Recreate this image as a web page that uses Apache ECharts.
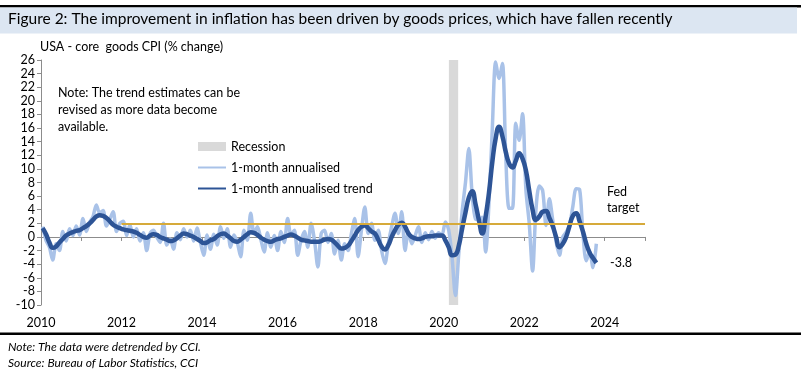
<!DOCTYPE html>
<html>
<head>
<meta charset="utf-8">
<script src="https://cdn.jsdelivr.net/npm/echarts@6/dist/echarts.min.js"></script>
<style>
html,body{margin:0;padding:0;background:#fff}
#chart{width:801px;height:375px}
</style>
</head>
<body>
<div id="chart"></div>
<script>
// monthly data, Jan 2010 .. Oct 2023
var startYear = 2010;
var annualised = [
  1.5, -0.5, -1.5, -3.4, -1.0, -2.0, 0.8, -0.6, 1.2, 0.2, 1.6, 0.3,
  2.7, 0.8, 2.2, 3.0, 4.7, 3.5, 3.9, 1.6, 2.6, 3.7, 0.8, 2.0,
  2.3, 0.2, 1.8, 0.0, 1.2, -0.6, 0.6, -2.0, 0.5, 1.0, 0.0, -0.8,
  2.0, -1.2, -0.3, -1.8, 0.6, -0.4, 1.2, 0.0, 1.0, -0.6, 1.3, -0.8,
  -2.7, 0.3, -1.8, 0.4, -1.2, 1.5, -0.2, 1.2, -1.5, 0.3, -0.8, -2.9,
  1.0, -0.5, 3.5, 0.5, 1.5, -0.3, -2.2, 0.6, -1.5, 0.2, -2.0, 0.8,
  -0.8, 2.7, 0.3, 1.0, -2.7, -0.5, 0.8, -1.5, 2.0, -0.5, -4.4, 0.5,
  1.0, -0.8, 0.5, -2.5, -0.5, -3.4, -1.0, -2.0, 0.5, 2.7, -2.9, 1.0,
  4.4, 0.5, 2.0, -0.5, 1.0, -2.0, -3.9, -1.0, 1.5, 3.5, 0.5, 3.7,
  -2.0, 0.8, -1.0, 0.2, 1.5, -0.8, 0.6, -0.4, 0.8, -0.2, 0.6, 0.3,
  2.2, 1.0, -3.0, -8.6, -2.5, 3.7, 8.0, 13.0, 6.1, 2.6, 2.5, 2.9,
  -2.2, 5.0, 16.0, 25.7, 23.3, 25.5, 12.0, 4.2, 4.2, 16.7, 14.2, 18.1,
  7.0, 2.0, -5.0, 4.0, 7.5, 6.8, 1.7, 5.6, 2.5, -0.7, -2.7, 0.0,
  0.7, 1.7, 4.5, 7.1, 7.0, 0.5, -3.5, -2.2, -4.5, -1.0
];
var trend = [
  1.3, 0.4, -0.8, -1.6, -1.4, -0.8, -0.3, 0.2, 0.5, 0.7, 0.9, 1.0,
  1.3, 1.6, 2.0, 2.5, 3.0, 3.2, 3.1, 2.8, 2.3, 1.8, 1.5, 1.3,
  1.1, 1.0, 0.9, 0.8, 0.6, 0.3, 0.0, -0.1, 0.2, 0.4, 0.3, 0.0,
  -0.2, -0.4, -0.6, -0.5, -0.2, 0.2, 0.5, 0.4, 0.2, 0.0, -0.3, -0.6,
  -0.9, -0.8, -0.5, -0.3, 0.1, 0.4, 0.5, 0.2, -0.2, -0.6, -0.7, -0.4,
  0.0, 0.4, 0.7, 0.6, 0.3, -0.1, -0.4, -0.6, -0.7, -0.5, -0.3, -0.2,
  0.0, 0.2, 0.35, 0.2, -0.1, -0.4, -0.5, -0.6, -0.7, -0.7, -0.7, -0.6,
  -0.4, -0.3, -0.4, -0.8, -1.3, -1.7, -1.6, -1.3, -0.6, 0.2, 1.0, 1.5,
  1.7, 1.3, 0.8, 0.5, -0.4, -1.4, -1.85, -1.2, 0.0, 1.0, 1.8, 2.1,
  1.5, 0.5, 0.0, -0.2, -0.3, -0.2, 0.0, 0.1, 0.1, 0.2, 0.2, 0.2,
  -0.5, -1.5, -2.7, -2.6, -1.3, 1.2, 3.6, 5.8, 6.7, 4.8, 2.5, 0.5,
  3.0, 6.5, 11.0, 14.5, 16.2, 14.8, 12.5, 10.8, 10.2, 11.2, 12.3, 11.5,
  9.8, 6.8, 4.0, 2.5, 3.0, 3.7, 3.8, 2.8, 1.6, 0.0, -1.5, -1.0,
  0.0, 1.6, 3.1, 3.5, 2.3, 0.8, -1.0, -2.3, -3.1, -3.8
];
var recession = [2020.13, 2020.36];
var fedTarget = 2;
var fedFrom = 2012;
var xRange = [2010, 2025];
var yRange = [-10, 26];

var FONT = 'Lato, "Liberation Sans", sans-serif';

// x position = middle of each month, in years
function monthX(i) { return startYear + (i + 0.5) / 12; }
var rawPts = annualised.map(function (v, i) { return [monthX(i), v]; });
var trendPts = trend.map(function (v, i) { return [monthX(i), v]; });

var myChart = echarts.init(document.getElementById('chart'));
var option = {
  animation: false,
  textStyle: { fontFamily: FONT },
  grid: { left: 41, right: 156, top: 60, bottom: 70 },
  legend: {
    orient: 'vertical',
    left: 192, top: 135,
    itemWidth: 28, itemHeight: 9, itemGap: 8,
    textStyle: { fontSize: 12.5, color: '#000', fontFamily: FONT },
    data: [
      { name: 'Recession', icon: 'rect', itemStyle: { color: '#D9D9D9' } },
      // hide the marker dot, keep only the line
      { name: '1-month annualised', itemStyle: { opacity: 0 } },
      { name: '1-month annualised trend', itemStyle: { opacity: 0 } }
    ]
  },
  xAxis: [
    {
      type: 'value', min: xRange[0], max: xRange[1], interval: 1,
      axisLine: { show: false, onZero: false },
      axisTick: { show: false },
      splitLine: { show: false },
      axisLabel: {
        margin: 11, fontSize: 12.5, color: '#000', fontFamily: FONT,
        formatter: function (v) { return (v % 2 === 0 && v < 2025) ? String(v) : ''; }
      }
    },
    {
      type: 'value', min: xRange[0], max: xRange[1], interval: 1, position: 'bottom',
      axisLine: { show: true, onZero: true, lineStyle: { color: '#8C8C8C', width: 1 } },
      axisTick: { show: true, length: 4, lineStyle: { color: '#8C8C8C' } },
      axisLabel: { show: false },
      splitLine: { show: false }
    }
  ],
  yAxis: {
    type: 'value', min: yRange[0], max: yRange[1], interval: 2,
    axisLine: { show: true, onZero: false, lineStyle: { color: '#8C8C8C' } },
    axisTick: { show: true, length: 4, lineStyle: { color: '#8C8C8C' } },
    splitLine: { show: false },
    axisLabel: { margin: 6, fontSize: 12.5, color: '#000', fontFamily: FONT }
  },
  series: [
    {
      name: 'Recession', type: 'line', data: [], z: 1, color: '#D9D9D9',
      symbol: 'none', silent: true,
      markArea: {
        silent: true,
        itemStyle: { color: '#D9D9D9' },
        data: [[{ xAxis: recession[0] }, { xAxis: recession[1] }]]
      }
    },
    {
      name: '1-month annualised', type: 'line', data: rawPts, z: 2,
      color: '#A9C2E8', symbol: 'none', smooth: 0.3,
      lineStyle: { width: 3.5, color: '#A9C2E8' }
    },
    {
      name: 'fed', type: 'line', data: [], z: 3, symbol: 'none', silent: true,
      markLine: {
        silent: true, symbol: 'none', label: { show: false },
        lineStyle: { color: '#D6AA3A', width: 2, type: 'solid' },
        data: [[{ coord: [fedFrom, fedTarget] }, { coord: [xRange[1], fedTarget] }]]
      }
    },
    {
      name: '1-month annualised trend', type: 'line', data: trendPts, z: 4,
      color: '#2D5496', symbol: 'none', smooth: 0.5,
      lineStyle: { width: 4.5, color: '#2D5496' }
    }
  ],
  graphic: [
    { type: 'rect', left: 0, top: 5, shape: { width: 801, height: 2.5 }, style: { fill: '#000' } },
    { type: 'rect', left: 0, top: 7.5, shape: { width: 797, height: 26 }, style: { fill: '#DCE6F2' } },
    { type: 'text', left: 8, top: 11, style: { text: 'Figure 2: The improvement in inflation has been driven by goods prices, which have fallen recently', font: '15.5px ' + FONT, fill: '#000' } },
    { type: 'text', left: 40, top: 40, style: { text: 'USA - core  goods CPI (% change)', font: '12.5px ' + FONT, fill: '#000' } },
    { type: 'text', left: 58, top: 84, style: { text: 'Note: The trend estimates can be\nrevised as more data become\navailable.', font: '12.5px ' + FONT, lineHeight: 17, fill: '#000' } },
    { type: 'text', left: 607, top: 184, style: { text: 'Fed\ntarget', font: '12.5px ' + FONT, lineHeight: 16, fill: '#000' } },
    { type: 'text', left: 610, top: 256, style: { text: '-3.8', font: '12.5px ' + FONT, fill: '#000' } },
    { type: 'rect', left: 0, top: 332.5, shape: { width: 801, height: 2.5 }, style: { fill: '#000' } },
    { type: 'text', left: 8, top: 341, style: { text: 'Note: The data were detrended by CCI.', font: 'italic 12px ' + FONT, fill: '#000' } },
    { type: 'text', left: 8, top: 357, style: { text: 'Source: Bureau of Labor Statistics, CCI', font: 'italic 12px ' + FONT, fill: '#000' } }
  ]
};
myChart.setOption(option);
</script>
</body>
</html>
